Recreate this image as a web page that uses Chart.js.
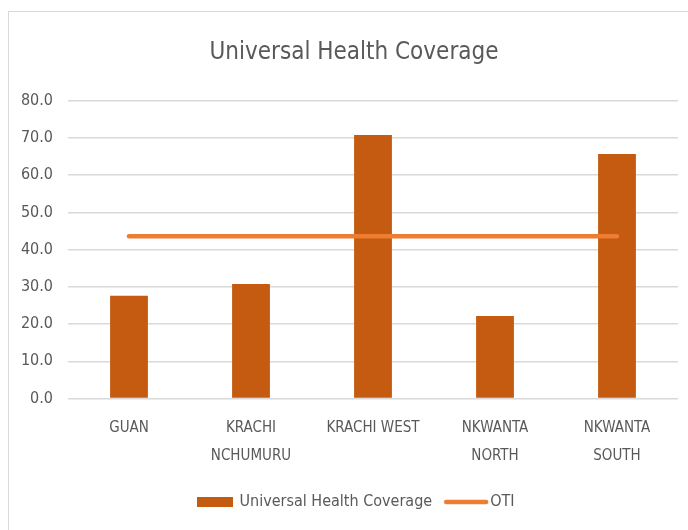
<!DOCTYPE html>
<html>
<head>
<meta charset="utf-8">
<script src="https://cdn.jsdelivr.net/npm/chart.js@4/dist/chart.umd.min.js"></script>
<style>
    html, body { margin: 0; padding: 0; background: #fff; }
    #wrap { position: relative; width: 688px; height: 530px; overflow: hidden; }
    #frame { position: absolute; left: 8px; top: 11px; width: 700px; height: 540px; border: 1px solid #d9d9d9; box-sizing: border-box; }
    canvas { position: absolute; left: 0; top: 0; }
</style>
</head>
<body>
<div id="wrap">
    <div id="frame"></div>
    <canvas id="uhcChart" width="688" height="530"></canvas>
</div>
<script>
// Data
const districts = [['GUAN'], ['KRACHI', 'NCHUMURU'], ['KRACHI WEST'], ['NKWANTA', 'NORTH'], ['NKWANTA', 'SOUTH']]
const uhcValues = [27.6, 30.8, 70.8, 22.2, 65.7]
const otiValues = [43.6, 43.6, 43.6, 43.6, 43.6]
const yTicks = [0, 10, 20, 30, 40, 50, 60, 70, 80]

const FONT = '"Liberation Sans Narrow", "DejaVu Sans Condensed", "Noto Sans", sans-serif'
const TEXT = '#595959'
const BAR_COLOR = '#C55A11'
const LINE_COLOR = '#ED7D31'

// legend swatches drawn as small images (flat box for the bars, short thick line for OTI)
function makeSwatch (w, h, draw) {
    const c = document.createElement('canvas')
    c.width = w
    c.height = h
    draw(c.getContext('2d'))
    return c
}
const barSwatch = makeSwatch(36, 10, (ctx) => {
    ctx.fillStyle = BAR_COLOR
    ctx.fillRect(0, 0, 36, 10)
})
const lineSwatch = makeSwatch(46, 6, (ctx) => {
    ctx.strokeStyle = LINE_COLOR
    ctx.lineWidth = 4.5
    ctx.lineCap = 'round'
    ctx.beginPath()
    ctx.moveTo(3, 3)
    ctx.lineTo(43, 3)
    ctx.stroke()
})

// nudge the title and legend to the right like in the original
const centerShift = {
    id: 'centerShift',
    afterLayout (chart) {
        chart.legend.left += 18
        chart.legend.right += 18
        chart.titleBlock.left += 15
        chart.titleBlock.right += 15
    }
}

new Chart(document.getElementById('uhcChart'), {
    data: {
        labels: districts,
        datasets: [
            {
                type: 'bar',
                label: 'Universal Health Coverage',
                data: uhcValues,
                backgroundColor: BAR_COLOR,
                categoryPercentage: 1,
                barPercentage: 0.31,
                pointStyle: barSwatch,
                order: 1
            },
            {
                type: 'line',
                label: 'OTI',
                data: otiValues,
                borderColor: LINE_COLOR,
                backgroundColor: LINE_COLOR,
                borderWidth: 4.5,
                borderCapStyle: 'round',
                pointRadius: 0,
                pointStyle: lineSwatch,
                order: 0
            }
        ]
    },
    plugins: [centerShift],
    options: {
        responsive: false,
        animation: false,
        layout: { padding: { left: 0, right: 10, top: 0, bottom: 10 } },
        plugins: {
            title: {
                display: true,
                text: 'Universal Health Coverage',
                color: TEXT,
                font: { family: FONT, size: 24, weight: 'normal', lineHeight: 1.2 },
                padding: { top: 38, bottom: 34 }
            },
            legend: {
                position: 'bottom',
                labels: {
                    sort: (a, b) => a.datasetIndex - b.datasetIndex,
                    color: TEXT,
                    font: { family: FONT, size: 16 },
                    usePointStyle: true,
                    pointStyleWidth: 32,
                    boxHeight: 10,
                    padding: 18
                }
            },
            tooltip: { enabled: false }
        },
        scales: {
            x: {
                grid: { display: false },
                border: { display: false },
                afterFit: (scale) => { scale.height -= 2 },
                ticks: {
                    color: TEXT,
                    font: { family: FONT, size: 15, lineHeight: 1.85 },
                    padding: 8,
                    maxRotation: 0,
                    autoSkip: false
                }
            },
            y: {
                min: 0,
                max: 80,
                afterFit: (scale) => { scale.width = 68 },
                afterBuildTicks: (scale) => { scale.ticks = yTicks.map((v) => ({ value: v })) },
                grid: { color: '#d9d9d9', lineWidth: 1.5, drawTicks: false },
                border: { display: false },
                ticks: {
                    color: TEXT,
                    font: { family: FONT, size: 16 },
                    padding: 15,
                    callback: (v) => v.toFixed(1)
                }
            }
        }
    }
})
</script>
</body>
</html>
